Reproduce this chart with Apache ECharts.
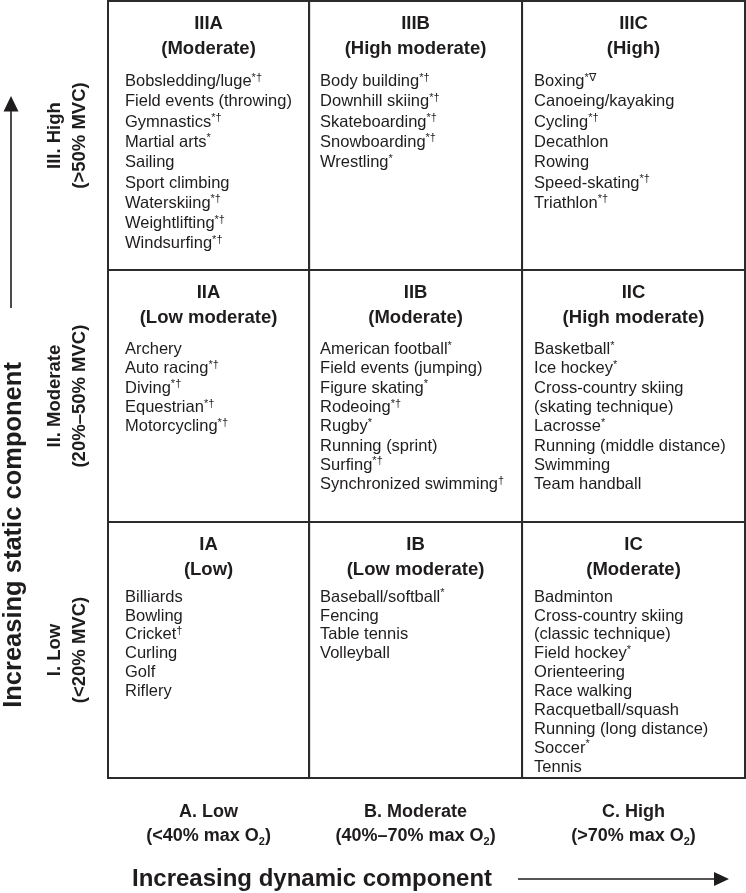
<!DOCTYPE html>
<html>
<head>
<meta charset="utf-8">
<script src="https://cdn.jsdelivr.net/npm/echarts@6/dist/echarts.min.js"></script>
<style>
html,body{margin:0;padding:0;background:#fff;}
#chart{width:746px;height:893px;}
</style>
</head>
<body>
<div id="chart"></div>
<script>
// ---------------- data ----------------
const staticLevels = ['I. Low', 'II. Moderate', 'III. High'];
const staticRanges = ['(<20% MVC)', '(20%–50% MVC)', '(>50% MVC)'];
const dynamicLevels = ['A. Low', 'B. Moderate', 'C. High'];
const dynamicRanges = ['(<40% max O₂)', '(40%–70% max O₂)', '(>70% max O₂)'];
const staticTitle = 'Increasing static component';
const dynamicTitle = 'Increasing dynamic component';

// rows: index 0 = I (low static), 2 = III (high static); columns A, B, C
const cellCodes = [
  ['IA', 'IB', 'IC'],
  ['IIA', 'IIB', 'IIC'],
  ['IIIA', 'IIIB', 'IIIC']
];
const cellIntensity = [
  ['(Low)', '(Low moderate)', '(Moderate)'],
  ['(Low moderate)', '(Moderate)', '(High moderate)'],
  ['(Moderate)', '(High moderate)', '(High)']
];
const sportsIA = ['Billiards', 'Bowling', 'Cricket†', 'Curling', 'Golf', 'Riflery'];
const sportsIB = ['Baseball/softball*', 'Fencing', 'Table tennis', 'Volleyball'];
const sportsIC = ['Badminton', 'Cross-country skiing', '(classic technique)', 'Field hockey*', 'Orienteering', 'Race walking', 'Racquetball/squash', 'Running (long distance)', 'Soccer*', 'Tennis'];
const sportsIIA = ['Archery', 'Auto racing*†', 'Diving*†', 'Equestrian*†', 'Motorcycling*†'];
const sportsIIB = ['American football*', 'Field events (jumping)', 'Figure skating*', 'Rodeoing*†', 'Rugby*', 'Running (sprint)', 'Surfing*†', 'Synchronized swimming†'];
const sportsIIC = ['Basketball*', 'Ice hockey*', 'Cross-country skiing', '(skating technique)', 'Lacrosse*', 'Running (middle distance)', 'Swimming', 'Team handball'];
const sportsIIIA = ['Bobsledding/luge*†', 'Field events (throwing)', 'Gymnastics*†', 'Martial arts*', 'Sailing', 'Sport climbing', 'Waterskiing*†', 'Weightlifting*†', 'Windsurfing*†'];
const sportsIIIB = ['Body building*†', 'Downhill skiing*†', 'Skateboarding*†', 'Snowboarding*†', 'Wrestling*'];
const sportsIIIC = ['Boxing*∇', 'Canoeing/kayaking', 'Cycling*†', 'Decathlon', 'Rowing', 'Speed-skating*†', 'Triathlon*†'];

const cellSports = [
  [sportsIA, sportsIB, sportsIC],
  [sportsIIA, sportsIIB, sportsIIC],
  [sportsIIIA, sportsIIIB, sportsIIIC]
];

// ---------------- layout & style ----------------
const FONT = '"Liberation Sans", Arial, Helvetica, sans-serif';
const INK = '#1f1c1d';
const LINE = '#2b2b2b';
const colEdges = [0, 0.947, 1.95, 3];     // axis units
const rowEdges = [0, 0.988, 1.961, 3];    // axis units
const colPad = [17, 11, 12];
const itemStart = [75, 79.5, 80.5];
const itemStep = [18.9, 19.3, 20.3];

function markup(s) {
  const m = s.match(/^(.*?)([*†∇]+)$/);
  return m ? '{n|' + m[1] + '}{s|' + m[2] + '}' : '{n|' + s + '}';
}
function subMarkup(s) {
  return s.split('₂').map(p => p ? '{b|' + p + '}' : '').join('{sub|2}');
}

const cellData = [];
for (let r = 0; r < 3; r++) for (let c = 0; c < 3; c++) cellData.push([c, r]);

const chart = echarts.init(document.getElementById('chart'), null, {renderer: 'canvas'});

const option = {
  backgroundColor: '#ffffff',
  animation: false,
  grid: {left: 108, right: 1, top: 1, bottom: 115},
  xAxis: {type: 'value', min: 0, max: 3, show: false},
  yAxis: {type: 'value', min: 0, max: 3, show: false},
  series: [
    {
      type: 'custom',
      clip: false,
      data: cellData,
      renderItem: function (params, api) {
        const c = api.value(0), r = api.value(1);
        const tl = api.coord([colEdges[c], rowEdges[r + 1]]);
        const br = api.coord([colEdges[c + 1], rowEdges[r]]);
        const left = tl[0], top = tl[1], w = br[0] - tl[0], h = br[1] - tl[1];
        const cx = left + w / 2;
        const children = [
          {type: 'rect', shape: {x: left, y: top, width: w, height: h},
           style: {fill: null, stroke: LINE, lineWidth: 2}},
          {type: 'text', style: {x: cx, y: top + 23, text: cellCodes[r][c], align: 'center', verticalAlign: 'middle',
            fontFamily: FONT, fontWeight: 'bold', fontSize: 18.5, fill: INK}},
          {type: 'text', style: {x: cx, y: top + 48, text: cellIntensity[r][c], align: 'center', verticalAlign: 'middle',
            fontFamily: FONT, fontWeight: 'bold', fontSize: 18.5, fill: INK}}
        ];
        cellSports[r][c].forEach(function (s, i) {
          children.push({type: 'text', style: {
            x: left + colPad[c], y: top + itemStart[r] + i * itemStep[r],
            text: markup(s), align: 'left', verticalAlign: 'middle',
            rich: {
              n: {fontFamily: FONT, fontSize: 16.5, fill: INK, lineHeight: 19},
              s: {fontFamily: FONT, fontSize: 11, fill: INK, lineHeight: 12, verticalAlign: 'top'}
            }
          }});
        });
        return {type: 'group', children: children};
      }
    },
    {
      type: 'custom',
      clip: false,
      data: [[0, 0], [1, 1], [2, 2]],
      renderItem: function (params, api) {
        const r = api.value(0);
        const p = api.coord([0, (rowEdges[r] + rowEdges[r + 1]) / 2]);
        return {type: 'text', x: p[0] - 40.5, y: p[1], rotation: Math.PI / 2,
          style: {x: 0, y: 0, text: staticLevels[r] + '\n' + staticRanges[r], align: 'center', verticalAlign: 'middle',
            fontFamily: FONT, fontWeight: 'bold', fontSize: 18.5, lineHeight: 24.5, fill: INK}};
      }
    },
    {
      type: 'custom',
      clip: false,
      data: [[0, 0], [1, 1], [2, 2]],
      renderItem: function (params, api) {
        const c = api.value(0);
        const p = api.coord([(colEdges[c] + colEdges[c + 1]) / 2, 0]);
        return {type: 'group', children: [
          {type: 'text', style: {x: p[0], y: p[1] + 34, text: dynamicLevels[c], align: 'center', verticalAlign: 'middle',
            fontFamily: FONT, fontWeight: 'bold', fontSize: 18, fill: INK}},
          {type: 'text', style: {x: p[0], y: p[1] + 58, text: subMarkup(dynamicRanges[c]), align: 'center', verticalAlign: 'middle',
            rich: {
              b: {fontFamily: FONT, fontWeight: 'bold', fontSize: 18, fill: INK, lineHeight: 22},
              sub: {fontFamily: FONT, fontWeight: 'bold', fontSize: 11, fill: INK, lineHeight: 13, verticalAlign: 'bottom'}
            }}}
        ]};
      }
    }
  ],
  graphic: [
    {type: 'line', shape: {x1: 11, y1: 308, x2: 11, y2: 108}, style: {stroke: INK, lineWidth: 1.6}},
    {type: 'polygon', shape: {points: [[11, 96], [3.5, 111.5], [18.5, 111.5]]}, style: {fill: INK}},
    {type: 'text', x: 14, y: 535, rotation: Math.PI / 2,
      style: {x: 0, y: 0, text: staticTitle, align: 'center', verticalAlign: 'middle', textAlign: 'center', textVerticalAlign: 'middle',
        fontFamily: FONT, fontWeight: 'bold', fontSize: 25.5, fill: INK}},
    {type: 'text', x: 312, y: 879,
      style: {x: 0, y: 0, text: dynamicTitle, align: 'center', verticalAlign: 'middle', textAlign: 'center', textVerticalAlign: 'middle',
        fontFamily: FONT, fontWeight: 'bold', fontSize: 24, fill: INK}},
    {type: 'line', shape: {x1: 518, y1: 879, x2: 716, y2: 879}, style: {stroke: INK, lineWidth: 1.6}},
    {type: 'polygon', shape: {points: [[729, 879], [714, 872], [714, 886]]}, style: {fill: INK}}
  ]
};
chart.setOption(option);
</script>
</body>
</html>
